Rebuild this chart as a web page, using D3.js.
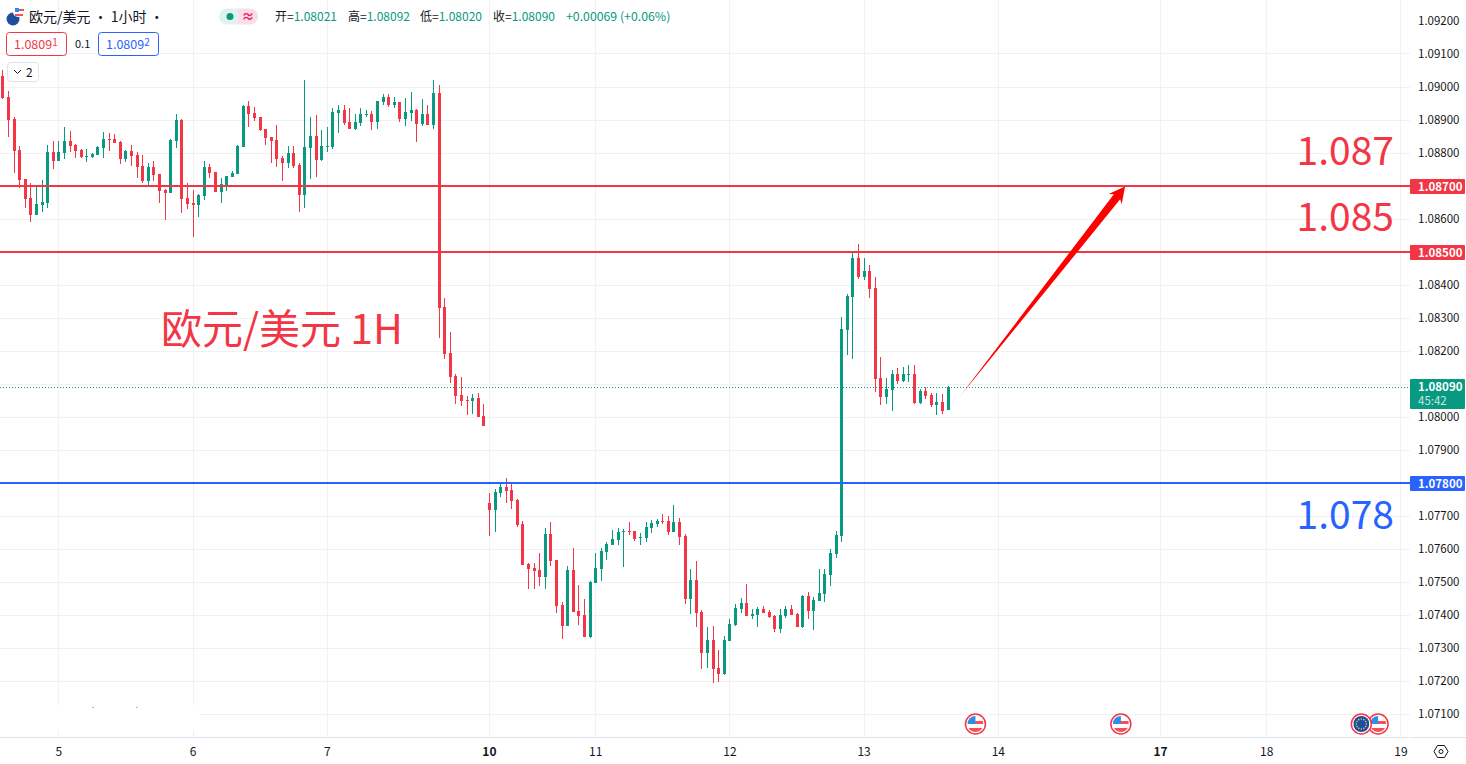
<!DOCTYPE html>
<html>
<head>
<meta charset="utf-8">
<script src="https://cdn.jsdelivr.net/npm/d3@7/dist/d3.min.js"></script>
<style>
    html, body { margin: 0; padding: 0; background: #fff; overflow: hidden; }
    svg { display: block; font-family: "Noto Sans CJK SC", Roboto, sans-serif; }
    .domain { display: none; }
</style>
</head>
<body>
<svg width="1466" height="764"></svg>
<script>
var opens = [
    1.09032,1.08968,1.08902,1.08808,1.08720,1.08662,1.08611,1.08641,1.08647,1.08802,
    1.08774,1.08799,1.08835,1.08823,1.08808,1.08787,1.08787,1.08793,1.08814,1.08841,
    1.08841,1.08832,1.08781,1.08805,1.08793,1.08759,1.08714,1.08756,1.08735,1.08687,
    1.08678,1.08835,1.08899,1.08662,1.08647,1.08641,1.08668,1.08756,1.08741,1.08681,
    1.08702,1.08726,1.08735,1.08817,1.08941,1.08920,1.08908,1.08871,1.08847,1.08838,
    1.08784,1.08768,1.08799,1.08762,1.08672,1.08814,1.08850,1.08777,1.08817,1.08817,
    1.08920,1.08929,1.08893,1.08871,1.08890,1.08914,1.08917,1.08893,1.08953,1.08968,
    1.08944,1.08953,1.08902,1.08920,1.08929,1.08886,1.08917,1.08883,1.08980,1.08332,
    1.08193,1.08123,1.08066,1.08051,1.08048,1.08057,1.08002,1.07739,1.07718,1.07769,
    1.07787,1.07778,1.07748,1.07675,1.07554,1.07542,1.07536,1.07515,1.07645,1.07566,
    1.07430,1.07366,1.07536,1.07412,1.07400,1.07333,1.07497,1.07539,1.07591,1.07612,
    1.07627,1.07651,1.07654,1.07654,1.07633,1.07633,1.07663,1.07675,1.07684,1.07684,
    1.07651,1.07681,1.07639,1.07448,1.07506,1.07409,1.07285,1.07324,1.07239,1.07221,
    1.07321,1.07370,1.07418,1.07436,1.07397,1.07400,1.07418,1.07409,1.07397,1.07357,
    1.07397,1.07418,1.07403,1.07363,1.07457,1.07412,1.07442,1.07463,1.07521,1.07584,
    1.07639,1.08263,1.08363,1.08481,1.08423,1.08441,1.08390,1.08117,1.08060,1.08081,
    1.08130,1.08108,1.08126,1.08130,1.08042,1.08078,1.08066,1.08036,1.08045,1.08021
];
var highs = [
    1.09050,1.08986,1.08908,1.08820,1.08720,1.08708,1.08702,1.08717,1.08823,1.08835,
    1.08835,1.08877,1.08865,1.08826,1.08811,1.08811,1.08799,1.08820,1.08862,1.08859,
    1.08856,1.08835,1.08808,1.08823,1.08802,1.08793,1.08768,1.08774,1.08735,1.08690,
    1.08841,1.08917,1.08902,1.08708,1.08687,1.08675,1.08774,1.08765,1.08741,1.08723,
    1.08729,1.08744,1.08823,1.08944,1.08956,1.08938,1.08908,1.08871,1.08847,1.08883,
    1.08790,1.08820,1.08820,1.08768,1.09020,1.08908,1.08914,1.08868,1.08877,1.08935,
    1.08944,1.08944,1.08935,1.08917,1.08935,1.08929,1.08926,1.08956,1.08977,1.08977,
    1.08968,1.08953,1.08965,1.08983,1.08932,1.08962,1.08944,1.09020,1.09005,1.08360,
    1.08257,1.08130,1.08120,1.08063,1.08069,1.08072,1.08039,1.07769,1.07781,1.07796,
    1.07815,1.07799,1.07751,1.07684,1.07557,1.07557,1.07588,1.07663,1.07681,1.07566,
    1.07439,1.07548,1.07603,1.07491,1.07448,1.07503,1.07588,1.07603,1.07621,1.07657,
    1.07663,1.07660,1.07681,1.07654,1.07648,1.07681,1.07687,1.07690,1.07706,1.07700,
    1.07733,1.07694,1.07645,1.07539,1.07563,1.07415,1.07363,1.07366,1.07294,1.07336,
    1.07388,1.07433,1.07451,1.07494,1.07418,1.07424,1.07427,1.07415,1.07400,1.07418,
    1.07427,1.07430,1.07406,1.07460,1.07469,1.07454,1.07539,1.07539,1.07600,1.07654,
    1.08302,1.08372,1.08502,1.08523,1.08481,1.08460,1.08423,1.08181,1.08117,1.08142,
    1.08148,1.08151,1.08157,1.08157,1.08084,1.08090,1.08072,1.08072,1.08069,1.08092
];
var lows = [
    1.08962,1.08847,1.08738,1.08693,1.08632,1.08590,1.08611,1.08620,1.08632,1.08750,
    1.08774,1.08781,1.08802,1.08784,1.08784,1.08771,1.08784,1.08793,1.08784,1.08805,
    1.08829,1.08765,1.08771,1.08759,1.08723,1.08708,1.08699,1.08714,1.08647,1.08596,
    1.08678,1.08814,1.08617,1.08629,1.08544,1.08605,1.08656,1.08723,1.08681,1.08647,
    1.08684,1.08726,1.08735,1.08817,1.08877,1.08896,1.08865,1.08823,1.08768,1.08756,
    1.08714,1.08753,1.08753,1.08620,1.08632,1.08720,1.08726,1.08774,1.08802,1.08811,
    1.08859,1.08883,1.08871,1.08868,1.08880,1.08908,1.08868,1.08871,1.08944,1.08938,
    1.08935,1.08893,1.08880,1.08896,1.08832,1.08880,1.08883,1.08871,1.08240,1.08175,
    1.08102,1.08039,1.08033,1.08005,1.08008,1.07999,1.07972,1.07639,1.07651,1.07757,
    1.07739,1.07721,1.07666,1.07551,1.07478,1.07478,1.07488,1.07478,1.07548,1.07406,
    1.07327,1.07366,1.07409,1.07370,1.07333,1.07330,1.07497,1.07503,1.07566,1.07612,
    1.07612,1.07545,1.07642,1.07624,1.07612,1.07621,1.07648,1.07666,1.07675,1.07642,
    1.07651,1.07612,1.07433,1.07403,1.07363,1.07236,1.07239,1.07194,1.07197,1.07218,
    1.07321,1.07366,1.07406,1.07397,1.07388,1.07363,1.07406,1.07391,1.07348,1.07345,
    1.07391,1.07400,1.07363,1.07360,1.07388,1.07354,1.07442,1.07439,1.07488,1.07572,
    1.07621,1.08187,1.08175,1.08417,1.08414,1.08360,1.08075,1.08036,1.08039,1.08017,
    1.08099,1.08105,1.08105,1.08039,1.08039,1.08054,1.08030,1.08005,1.08008,1.08020
];
var closes = [
    1.08964,1.08899,1.08805,1.08717,1.08659,1.08611,1.08644,1.08650,1.08802,1.08774,
    1.08802,1.08835,1.08820,1.08805,1.08787,1.08790,1.08796,1.08817,1.08841,1.08838,
    1.08829,1.08781,1.08805,1.08790,1.08756,1.08714,1.08756,1.08732,1.08684,1.08678,
    1.08838,1.08899,1.08659,1.08644,1.08641,1.08672,1.08756,1.08738,1.08681,1.08705,
    1.08729,1.08738,1.08820,1.08941,1.08917,1.08905,1.08868,1.08844,1.08835,1.08781,
    1.08768,1.08799,1.08759,1.08672,1.08817,1.08850,1.08777,1.08820,1.08820,1.08923,
    1.08929,1.08890,1.08871,1.08893,1.08917,1.08917,1.08893,1.08956,1.08968,1.08944,
    1.08953,1.08902,1.08923,1.08929,1.08886,1.08917,1.08883,1.08980,1.08329,1.08190,
    1.08120,1.08063,1.08048,1.08048,1.08057,1.07999,1.07972,1.07718,1.07772,1.07787,
    1.07775,1.07745,1.07672,1.07551,1.07539,1.07533,1.07515,1.07645,1.07563,1.07427,
    1.07366,1.07536,1.07409,1.07397,1.07333,1.07500,1.07542,1.07594,1.07615,1.07630,
    1.07651,1.07654,1.07651,1.07630,1.07636,1.07666,1.07678,1.07684,1.07681,1.07651,
    1.07681,1.07636,1.07448,1.07506,1.07406,1.07285,1.07324,1.07236,1.07221,1.07324,
    1.07373,1.07421,1.07436,1.07397,1.07403,1.07418,1.07406,1.07394,1.07357,1.07400,
    1.07418,1.07400,1.07363,1.07457,1.07412,1.07445,1.07466,1.07524,1.07588,1.07642,
    1.08266,1.08366,1.08481,1.08423,1.08441,1.08387,1.08114,1.08060,1.08084,1.08130,
    1.08108,1.08130,1.08130,1.08042,1.08078,1.08063,1.08036,1.08045,1.08017,1.08090
];

// bar index of every day label on the time axis
var dayBars = [10, 34, 58, 87, 106, 130, 154, 178, 207, 226, 250];
var dayLabels = ["5", "6", "7", "10", "11", "12", "13", "14", "17", "18", "19"];
var boldDays = ["10", "17"];

var gridPrices = [1.071, 1.072, 1.073, 1.074, 1.075, 1.076, 1.077, 1.078, 1.079, 1.080, 1.081, 1.082,
    1.083, 1.084, 1.085, 1.086, 1.087, 1.088, 1.089, 1.090, 1.091];
var axisPrices = [1.071, 1.072, 1.073, 1.074, 1.075, 1.076, 1.077, 1.079, 1.080, 1.082,
    1.083, 1.084, 1.086, 1.088, 1.089, 1.090, 1.091, 1.092];

var levelPrices = [1.087, 1.085, 1.078];
var levelLabels = ["1.087", "1.085", "1.078"];
var levelColors = ["#f23645", "#f23645", "#2962ff"];
var lastPrice = 1.0809;
var countdown = "45:42";

// bar position and price of arrow tail and tip
var arrowBars = [171.07, 200.75];
var arrowPrices = [1.08058, 1.08697];

var eventBars = [174, 200, 246, 243];
var eventKinds = ["us", "us", "us", "eu"];

var upColor = "#089981", downColor = "#f23645";

var svg = d3.select("svg");
var paneRight = 1410, paneBottom = 737;

var x = d3.scaleLinear().domain([0, 169]).range([2.4, 947.5]);
var y = d3.scaleLinear().domain([1.071, 1.09]).range([714, 86.5]);

// pixel row the 2px level lines sit on
function levelY(d) {
    return Math.ceil(y(d) - 0.55);
}

var candles = d3.range(opens.length).map(function (i) {
    return { i: i, o: opens[i], h: highs[i], l: lows[i], c: closes[i] };
});

// grid
var grid = svg.append("g").attr("shape-rendering", "crispEdges");
grid.selectAll("line.h").data(gridPrices).enter().append("line")
    .attr("class", "h")
    .attr("x1", 0).attr("x2", paneRight)
    .attr("y1", function (d) { return Math.round(y(d)) + 0.5; })
    .attr("y2", function (d) { return Math.round(y(d)) + 0.5; })
    .attr("stroke", "#f0f1f3");
grid.selectAll("line.v").data(dayBars).enter().append("line")
    .attr("class", "v")
    .attr("y1", 0).attr("y2", paneBottom)
    .attr("x1", function (d) { return Math.round(x(d)) + 0.5; })
    .attr("x2", function (d) { return Math.round(x(d)) + 0.5; })
    .attr("stroke", "#f0f1f3");

// rubbed out corner with two specks
svg.append("rect").attr("x", 0).attr("y", 705).attr("width", 200).attr("height", 25).attr("fill", "#fff");
svg.selectAll("rect.speck").data([92, 136]).enter().append("rect")
    .attr("class", "speck")
    .attr("x", function (d) { return d; }).attr("y", 707).attr("width", 2).attr("height", 1)
    .attr("fill", "#b2b5be");

// candles
var candleG = svg.append("g").attr("shape-rendering", "crispEdges");
var candle = candleG.selectAll("g").data(candles).enter().append("g")
    .attr("fill", function (d) { return d.c >= d.o ? upColor : downColor; });
candle.append("rect")
    .attr("x", function (d) { return Math.round(x(d.i)); })
    .attr("width", 1)
    .attr("y", function (d) { return y(d.h); })
    .attr("height", function (d) { return y(d.l) - y(d.h); });
candle.append("rect")
    .attr("x", function (d) { return Math.round(x(d.i)) - 1; })
    .attr("width", 3)
    .attr("y", function (d) { return y(Math.max(d.o, d.c)); })
    .attr("height", function (d) { return Math.max(1, Math.abs(y(d.o) - y(d.c))); });

// last price dotted line
svg.append("line")
    .attr("x1", 0).attr("x2", paneRight)
    .attr("y1", Math.round(y(lastPrice)) + 0.5).attr("y2", Math.round(y(lastPrice)) + 0.5)
    .attr("stroke", upColor).attr("stroke-dasharray", "1 2");

// horizontal levels
svg.selectAll("line.level").data(levelPrices).enter().append("line")
    .attr("class", "level")
    .attr("x1", 0).attr("x2", paneRight)
    .attr("y1", levelY)
    .attr("y2", levelY)
    .attr("stroke-width", 2)
    .attr("shape-rendering", "crispEdges")
    .attr("stroke", function (d, i) { return levelColors[i]; });

// big level labels and pair label
svg.selectAll("text.big").data(levelPrices).enter().append("text")
    .attr("class", "big")
    .attr("x", 1394)
    .attr("y", function (d, i) { return i === 1 ? y(d) - 21 : (i === 0 ? y(d) - 21 : y(d) + 46); })
    .attr("text-anchor", "end")
    .attr("font-size", 39)
    .attr("fill", function (d, i) { return levelColors[i]; })
    .text(function (d, i) { return levelLabels[i]; });

svg.append("text").attr("x", 161).attr("y", 344)
    .attr("font-size", 41).attr("fill", "#f23645")
    .text("欧元/美元 1H");

// arrow
var tail = [x(arrowBars[0]), y(arrowPrices[0])];
var tip = [x(arrowBars[1]), y(arrowPrices[1])];
var defs = svg.append("defs");
var grad = defs.append("linearGradient").attr("id", "arrowFade")
    .attr("gradientUnits", "userSpaceOnUse")
    .attr("x1", tail[0]).attr("y1", tail[1]).attr("x2", tip[0]).attr("y2", tip[1]);
grad.append("stop").attr("offset", 0).attr("stop-color", "#ff0000").attr("stop-opacity", 0.25);
grad.append("stop").attr("offset", 0.06).attr("stop-color", "#ff0000");
grad.append("stop").attr("offset", 1).attr("stop-color", "#ff0000");

var dx = tip[0] - tail[0], dy = tip[1] - tail[1], len = Math.sqrt(dx * dx + dy * dy);
var ux = dx / len, uy = dy / len;
function along(a, b) {
    return [tail[0] + ux * a - uy * b, tail[1] + uy * a + ux * b];
}
svg.append("path")
    .attr("d", d3.line()([
        along(0, 0), along(len - 13, -4), along(len - 16, -8.3), tip,
        along(len - 16, 8.3), along(len - 13, 4)
    ]) + "Z")
    .attr("fill", "url(#arrowFade)");

// event flags
defs.append("clipPath").attr("id", "flagClip").append("circle").attr("r", 8);
var flag = svg.selectAll("g.flag").data(eventBars).enter().append("g")
    .attr("class", "flag")
    .attr("transform", function (d) { return "translate(" + x(d) + ",724)"; });
flag.append("circle").attr("r", 10).attr("fill", "#fff").attr("stroke", "#f23645").attr("stroke-width", 1.5);
var flagInner = flag.append("g").attr("clip-path", "url(#flagClip)");
flagInner.each(function (d, i) {
    var g = d3.select(this);
    if (eventKinds[i] === "eu") {
        g.append("rect").attr("x", -8).attr("y", -8).attr("width", 16).attr("height", 16).attr("fill", "#1f4e9e");
        g.selectAll("circle").data(d3.range(12)).enter().append("circle")
            .attr("r", 0.8).attr("fill", "#e6c84a")
            .attr("cx", function (k) { return 5 * Math.cos(k * Math.PI / 6); })
            .attr("cy", function (k) { return 5 * Math.sin(k * Math.PI / 6); });
    } else {
        g.append("rect").attr("x", -8).attr("y", -8).attr("width", 16).attr("height", 16).attr("fill", "#fff");
        g.append("rect").attr("x", -8).attr("y", -3).attr("width", 16).attr("height", 3).attr("fill", "#f0515a");
        g.append("rect").attr("x", -8).attr("y", 4).attr("width", 16).attr("height", 4).attr("fill", "#f0515a");
        g.append("rect").attr("x", -8).attr("y", -8).attr("width", 8).attr("height", 8).attr("fill", "#2f8fe8");
    }
});

// axes
var priceAxis = d3.axisRight(y).tickValues(axisPrices).tickSize(0).tickPadding(0)
    .tickFormat(d3.format(".5f"));
svg.append("g").attr("transform", "translate(1418,0)").call(priceAxis)
    .selectAll("text").attr("font-size", 11.5).attr("fill", "#131722")
    .attr("font-family", "'Noto Sans CJK SC', Roboto, sans-serif");

var timeAxis = d3.axisBottom(x).tickValues(dayBars).tickSize(0).tickPadding(10)
    .tickFormat(function (d, i) { return dayLabels[i]; });
svg.append("g").attr("transform", "translate(0," + paneBottom + ")").call(timeAxis)
    .selectAll("text").attr("font-size", 12).attr("fill", "#131722")
    .attr("font-weight", function (d, i) { return boldDays.indexOf(dayLabels[i]) >= 0 ? 700 : 400; })
    .attr("font-family", "'Noto Sans CJK SC', Roboto, sans-serif");

svg.append("rect").attr("x", 0).attr("y", paneBottom).attr("width", paneRight - 1).attr("height", 1).attr("fill", "#e0e3eb");
svg.append("rect").attr("x", paneRight + 1).attr("y", paneBottom).attr("width", 56).attr("height", 1).attr("fill", "#e0e3eb");

// price boxes on the scale
svg.selectAll("g.box").data(levelPrices).enter().append("g").attr("class", "box")
    .each(function (d, i) {
        var g = d3.select(this), py = levelY(d);
        g.append("rect").attr("x", paneRight).attr("y", py - 7).attr("width", 55).attr("height", 15)
            .attr("rx", 1).attr("fill", levelColors[i]);
        g.append("text").attr("x", 1418).attr("y", py + 4.5).attr("font-size", 11.5).attr("font-weight", 700)
            .attr("fill", "#fff").text(d3.format(".5f")(d));
    });
var ly = Math.round(y(lastPrice));
svg.append("rect").attr("x", paneRight).attr("y", ly - 8).attr("width", 55).attr("height", 30)
    .attr("rx", 1).attr("fill", upColor);
svg.append("text").attr("x", 1418).attr("y", ly + 4).attr("font-size", 11.5).attr("font-weight", 700)
    .attr("fill", "#fff").text(d3.format(".5f")(lastPrice));
svg.append("text").attr("x", 1418).attr("y", ly + 18).attr("font-size", 11.5)
    .attr("fill", "#c7e8e1").text(countdown);

// settings hexagon
svg.append("path").attr("d", "M1434,751.5 L1437.5,745.5 L1444.5,745.5 L1448,751.5 L1444.5,757.5 L1437.5,757.5 Z")
    .attr("fill", "none").attr("stroke", "#131722");
svg.append("circle").attr("cx", 1441).attr("cy", 751.5).attr("r", 2).attr("fill", "none").attr("stroke", "#131722");

// legend
var legend = svg.append("g");
legend.append("circle").attr("cx", 13).attr("cy", 19).attr("r", 6.5).attr("fill", "#1f4e9e");
legend.append("circle").attr("cx", 18).attr("cy", 12).attr("r", 5).attr("fill", "#fff");
legend.append("rect").attr("x", 15).attr("y", 8).attr("width", 4).attr("height", 4).attr("fill", "#2f8fe8");
legend.append("rect").attr("x", 19).attr("y", 9).attr("width", 5).attr("height", 2).attr("fill", "#f0515a");
legend.append("rect").attr("x", 15).attr("y", 14).attr("width", 8).attr("height", 2).attr("fill", "#f0515a");
legend.append("text").attr("x", 29).attr("y", 22).attr("font-size", 14).attr("fill", "#131722").text("欧元/美元 · 1小时 ·");

legend.append("path").attr("d", "M238,8.5 H227 A8,8 0 0 0 227,24.5 H238 Z").attr("fill", "#dff2ee");
legend.append("path").attr("d", "M238,8.5 H250 A8,8 0 0 1 250,24.5 H238 Z").attr("fill", "#fbdde6");
legend.append("circle").attr("cx", 230).attr("cy", 16.5).attr("r", 3.5).attr("fill", upColor);
legend.append("text").attr("x", 248).attr("y", 21).attr("text-anchor", "middle").attr("font-size", 13)
    .attr("font-weight", 700).attr("fill", "#e91e63").text("≈");

var ohlcNames = ["开=", "高=", "低=", "收="];
var ohlcValues = [opens[169], highs[169], lows[169], closes[169]];
var ohlcX = [275, 348, 420, 493];
ohlcNames.forEach(function (n, i) {
    var t = legend.append("text").attr("x", ohlcX[i]).attr("y", 21).attr("font-size", 12);
    t.append("tspan").attr("fill", "#131722").text(n);
    t.append("tspan").attr("fill", upColor).text(d3.format(".5f")(ohlcValues[i]));
});
legend.append("text").attr("x", 566).attr("y", 21).attr("font-size", 12.3).attr("fill", upColor).text("+0.00069 (+0.06%)");

// bid/ask boxes
var quoteBoxes = [
    { left: 6, color: "#f23645", text: "1.0809", sup: "1" },
    { left: 98, color: "#2962ff", text: "1.0809", sup: "2" }
];
quoteBoxes.forEach(function (b) {
    legend.append("rect").attr("x", b.left + 0.5).attr("y", 32.5).attr("width", 60).attr("height", 23)
        .attr("rx", 3).attr("fill", "#fff").attr("stroke", b.color);
    var t = legend.append("text").attr("x", b.left + 8).attr("y", 49).attr("font-size", 12.5).attr("fill", b.color);
    t.append("tspan").text(b.text);
    t.append("tspan").attr("font-size", 10).attr("dy", -3).text(b.sup);
});
legend.append("text").attr("x", 75).attr("y", 48).attr("font-size", 11).attr("fill", "#131722").text("0.1");

legend.append("rect").attr("x", 7.5).attr("y", 62.5).attr("width", 31).attr("height", 19)
    .attr("rx", 3).attr("fill", "#fff").attr("stroke", "#e0e3eb");
legend.append("path").attr("d", "M14,70 L17.5,73.5 L21,70").attr("fill", "none").attr("stroke", "#131722");
legend.append("text").attr("x", 26).attr("y", 77).attr("font-size", 12).attr("fill", "#131722").text("2");
</script>
</body>
</html>
